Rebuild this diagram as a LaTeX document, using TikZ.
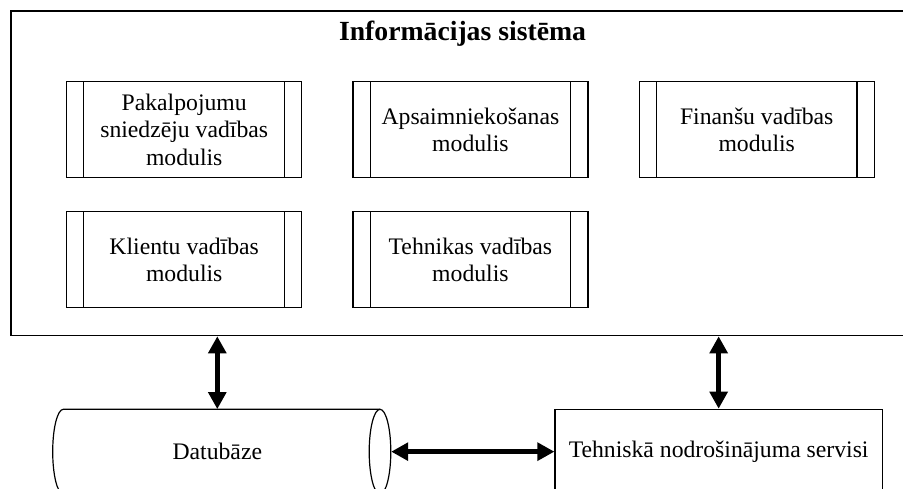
\documentclass[tikz,border=0pt]{standalone}
\usepackage{fontspec}
\setmainfont{Liberation Serif}
\usetikzlibrary{arrows.meta,calc}

\tikzset{
  bodytext/.style={font=\fontsize{23.7pt}{27.3pt}\selectfont},
  frame/.style={draw, line width=1.2pt, inner sep=0pt},
  modbox/.style={frame, bodytext, align=center,
    minimum width=235pt, minimum height=96pt,
    path picture={
      \draw[line width=1.1pt]
        ([xshift=17.2pt]path picture bounding box.south west) --
        ([xshift=17.2pt]path picture bounding box.north west);
      \draw[line width=1.1pt]
        ([xshift=-17.2pt]path picture bounding box.south east) --
        ([xshift=-17.2pt]path picture bounding box.north east);
    }},
  link/.style={line width=4.6pt,
    {Triangle[length=17pt,width=17.5pt]}-{Triangle[length=17pt,width=17.5pt]}},
}

\begin{document}
\begin{tikzpicture}[x=1pt,y=1pt]
  \useasboundingbox (0,0) rectangle (903,-488);
  \fill[white] (0,0) rectangle (903,-488);
  \clip (0,0) rectangle (903,-488);

  % information system frame (runs past the right edge)
  \node[frame, minimum width=905pt, minimum height=324.7pt] (sys) at (463.5,-173.35) {};
  \node[font=\bfseries\fontsize{27.7pt}{32pt}\selectfont, anchor=base, inner sep=0pt]
    (title) at (462.5,-40.7) {Informācijas sistēma};

  % modules
  \node[modbox] (m1) at (184.2,-129.7) {Pakalpojumu\\sniedzēju vadības\\modulis};
  \node[modbox] (m2) at (470.4,-129.7) {Apsaimniekošanas\\modulis};
  \node[modbox] (m3) at (756.7,-129.7) {Finanšu vadības\\modulis};
  \node[modbox] (m4) at (184.2,-259.7) {Klientu vadības\\modulis};
  \node[modbox] (m5) at (470.4,-259.7) {Tehnikas vadības\\modulis};

  % database cylinder
  \node[inner sep=0pt, minimum width=338.3pt, minimum height=84.7pt] (db) at (221.85,-451.65) {};
  \draw[line width=1.2pt] (380,-451.65) ellipse [x radius=10.8, y radius=42.35];
  \draw[line width=1.2pt] (380,-409.3) -- (63.3,-409.3)
    arc[start angle=90, end angle=270, x radius=10.6, y radius=42.35] -- (380,-494);
  \node[bodytext, inner sep=0pt] (dbtext) at (217.3,-451.7) {Datubāze};

  % technical services
  \node[frame, bodytext, minimum width=327.3pt, minimum height=84.7pt] (tech) at (718.65,-451.65)
    {Tehniskā nodrošinājuma servisi};

  % connectors
  \draw[link] (sys.south -| dbtext) -- (db.north -| dbtext);
  \draw[link] (sys.south -| tech) -- (tech.north);
  \draw[link] (db.east) -- (tech.west);
\end{tikzpicture}
\end{document}
